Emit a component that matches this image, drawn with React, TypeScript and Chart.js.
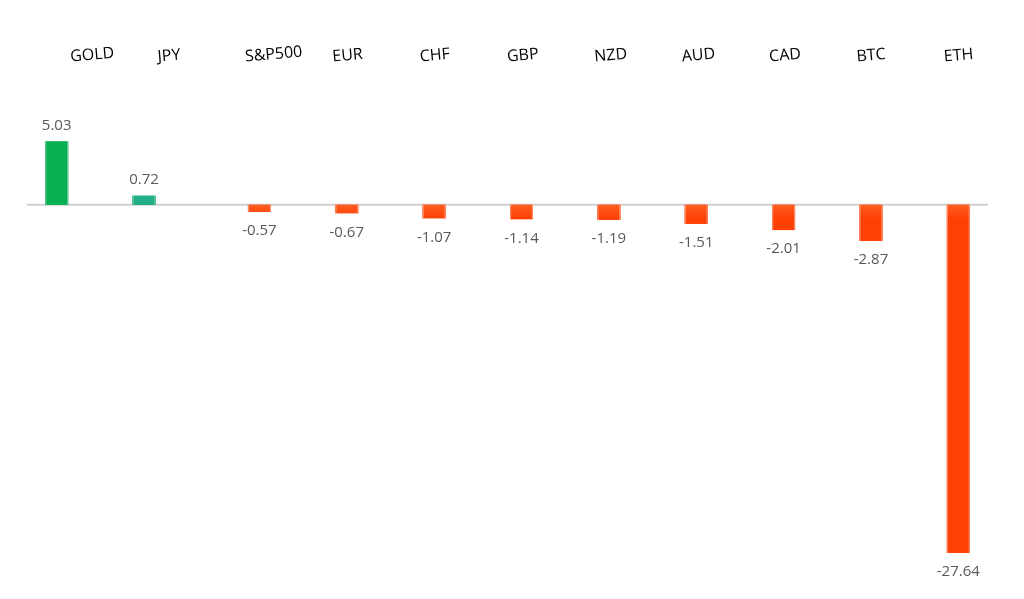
import React, { useEffect, useRef } from "react";
import { Chart, registerables } from "chart.js";

Chart.register(...registerables);

const categories = ["GOLD", "JPY", "S&P500", "EUR", "CHF", "GBP", "NZD", "AUD", "CAD", "BTC", "ETH"];
const gains: (number | null)[] = [5.03, 0.72, null, null, null, null, null, null, null, null, null];
const losses: (number | null)[] = [null, null, -0.57, -0.67, -1.07, -1.14, -1.19, -1.51, -2.01, -2.87, -27.64];
const gainColors = ["#06b04e", "#1fae87"];

const FONT = "'Open Sans', 'DejaVu Sans', sans-serif";

const decorPlugin = {
  id: "decor",
  beforeDatasetsDraw(chart: any) {
    const { ctx, chartArea, scales } = chart;
    const y0 = scales.y.getPixelForValue(0);
    ctx.save();
    ctx.strokeStyle = "#cfcfcf";
    ctx.lineWidth = 2;
    ctx.beginPath();
    ctx.moveTo(chartArea.left, y0);
    ctx.lineTo(chartArea.right, y0);
    ctx.stroke();
    ctx.restore();
  },
  afterDatasetsDraw(chart: any) {
    const { ctx, scales } = chart;
    const y0 = scales.y.getPixelForValue(0);
    chart.data.datasets.forEach((ds: any, di: number) => {
      const meta = chart.getDatasetMeta(di);
      meta.data.forEach((el: any, i: number) => {
        const v = ds.data[i];
        if (v === null || v === undefined) return;
        const { x, y, base, width } = el.getProps(["x", "y", "base", "width"], true);
        const left = x - width / 2;
        const top = Math.min(y, base);
        const h = Math.abs(base - y);
        let center: any;
        let edge: string;
        if (v >= 0) {
          center = gainColors[i % gainColors.length];
          edge = "#45b89c";
        } else {
          const g = ctx.createLinearGradient(0, y0, 0, y0 + 14);
          g.addColorStop(0, "#ff5c1e");
          g.addColorStop(1, "#ff4006");
          center = g;
          edge = "#ff7a4a";
        }
        ctx.save();
        ctx.fillStyle = center;
        ctx.fillRect(left, top, width, h);
        const hg = ctx.createLinearGradient(left, 0, left + width, 0);
        hg.addColorStop(0, edge);
        hg.addColorStop(0.07, "rgba(255,255,255,0)");
        hg.addColorStop(0.93, "rgba(255,255,255,0)");
        hg.addColorStop(1, edge);
        ctx.fillStyle = hg;
        ctx.fillRect(left, top, width, h);
        ctx.restore();

        ctx.save();
        ctx.font = `15px ${FONT}`;
        ctx.fillStyle = "#595959";
        ctx.textAlign = "center";
        ctx.textBaseline = "alphabetic";
        const label = (v as number).toFixed(2);
        if (v >= 0) {
          ctx.fillText(label, x, Math.min(y, base) - 11.6);
        } else {
          ctx.fillText(label, x, Math.max(y, base) + 23.4);
        }
        ctx.restore();
      });
    });
    ctx.save();
    ctx.font = `16px ${FONT}`;
    ctx.fillStyle = "#000000";
    ctx.textAlign = "left";
    ctx.textBaseline = "alphabetic";
    categories.forEach((c, i) => {
      const cx = scales.x.getPixelForValue(i);
      ctx.save();
      ctx.translate(cx, 61.5);
      ctx.rotate((-5 * Math.PI) / 180);
      ctx.fillText(c, 0, 0);
      ctx.restore();
    });
    ctx.restore();
  },
};

export default function App() {
  const ref = useRef<HTMLCanvasElement | null>(null);
  useEffect(() => {
    if (!ref.current) return;
    const chart = new Chart(ref.current, {
      type: "bar",
      data: {
        labels: categories,
        datasets: [
          { label: "gain", data: gains as any, backgroundColor: "#06b04e", categoryPercentage: 0.641, barPercentage: 0.82 },
          { label: "loss", data: losses as any, backgroundColor: "#ff4006", categoryPercentage: 0.641, barPercentage: 0.82 },
        ],
      },
      options: {
        responsive: false,
        animation: false,
        devicePixelRatio: 1,
        layout: { padding: { left: 27, right: 36, top: 104, bottom: 41.5 } },
        plugins: { legend: { display: false }, tooltip: { enabled: false } },
        scales: {
          x: { display: false, offset: true },
          y: { display: false, min: -28, max: 8 },
        },
      },
      plugins: [decorPlugin],
    });
    return () => chart.destroy();
  }, []);
  return (
    <div style={{ position: "fixed", left: 0, top: 0, width: 1024, height: 599, background: "#ffffff" }}>
      <canvas ref={ref} width={1024} height={599} />
    </div>
  );
}
